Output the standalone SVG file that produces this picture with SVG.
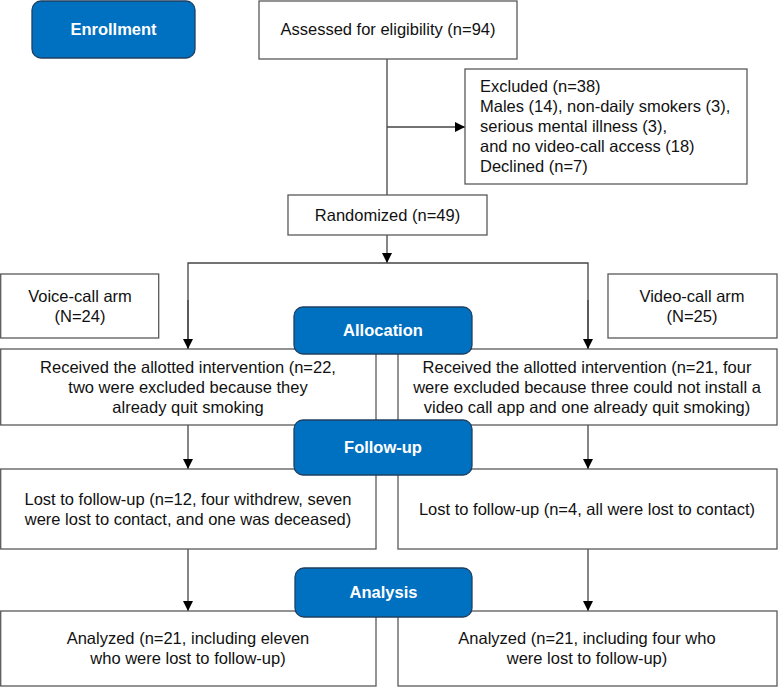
<svg xmlns="http://www.w3.org/2000/svg" width="778" height="687" viewBox="0 0 778 687">
<defs>
<style>
.box{fill:#fff;stroke:#595959;stroke-width:1.3}
.stage{fill:#0070c0;stroke:#1f3f60;stroke-width:1.3}
.t{font-family:"Liberation Sans",Arial,sans-serif;font-size:16.5px;fill:#111}
.c{text-anchor:middle}
.s{font-family:"Liberation Sans",Arial,sans-serif;font-size:16.5px;font-weight:bold;fill:#fff;text-anchor:middle}
.ln{fill:none;stroke:#444;stroke-width:1.3}
</style>
<marker id="ah" viewBox="0 0 10 10" refX="10" refY="5" markerWidth="10" markerHeight="10" markerUnits="userSpaceOnUse" orient="auto">
<path d="M0,0 L10,5 L0,10 z" fill="#000"/>
</marker>
</defs>
<rect width="778" height="687" fill="#fff"/>
<g id="connectors">
<line class="ln" x1="387" y1="59" x2="387" y2="195"/>
<line class="ln" x1="387" y1="127" x2="465" y2="127" marker-end="url(#ah)"/>
<line class="ln" x1="387" y1="235" x2="387" y2="263" marker-end="url(#ah)"/>
<polyline class="ln" points="188,349 188,263 588,263 588,349"/>
<line class="ln" x1="188" y1="300" x2="188" y2="349" marker-end="url(#ah)"/>
<line class="ln" x1="588" y1="300" x2="588" y2="349" marker-end="url(#ah)"/>
<line class="ln" x1="188" y1="425" x2="188" y2="469" marker-end="url(#ah)"/>
<line class="ln" x1="588" y1="425" x2="588" y2="469" marker-end="url(#ah)"/>
<line class="ln" x1="188" y1="549" x2="188" y2="611" marker-end="url(#ah)"/>
<line class="ln" x1="588" y1="549" x2="588" y2="611" marker-end="url(#ah)"/>
</g>
<g id="enrollment"><rect class="stage" x="32" y="1" width="163" height="57" rx="9"/><text class="s" x="113.5" y="35">Enrollment</text></g>
<g id="assessed"><rect class="box" x="259" y="1" width="258" height="58"/><text class="t c" x="388" y="35">Assessed for eligibility (n=94)</text></g>
<g id="excluded"><rect class="box" x="465" y="69" width="282" height="115"/>
<text class="t" x="480" y="92">Excluded (n=38)</text>
<text class="t" x="480" y="112">Males (14), non-daily smokers (3),</text>
<text class="t" x="480" y="132">serious mental illness (3),</text>
<text class="t" x="480" y="152">and no video-call access (18)</text>
<text class="t" x="480" y="172">Declined (n=7)</text></g>
<g id="randomized"><rect class="box" x="288" y="195" width="199" height="40"/><text class="t c" x="387.5" y="221">Randomized (n=49)</text></g>
<g id="voice-arm"><rect class="box" x="0.7" y="274" width="158" height="64"/><text class="t c" x="80" y="302">Voice-call arm</text><text class="t c" x="80" y="322">(N=24)</text></g>
<g id="video-arm"><rect class="box" x="608" y="274" width="169" height="64"/><text class="t c" x="692" y="302">Video-call arm</text><text class="t c" x="692" y="322">(N=25)</text></g>
<g id="received-voice"><rect class="box" x="0.7" y="349" width="375.3" height="76"/>
<text class="t c" x="188" y="373">Received the allotted intervention (n=22,</text>
<text class="t c" x="188" y="393">two were excluded because they</text>
<text class="t c" x="188" y="413">already quit smoking</text></g>
<g id="received-video"><rect class="box" x="398" y="349" width="379" height="76"/>
<text class="t c" x="587" y="373">Received the allotted intervention (n=21, four</text>
<text class="t c" x="587" y="393">were excluded because three could not install a</text>
<text class="t c" x="587" y="413">video call app and one already quit smoking)</text></g>
<g id="allocation"><rect class="stage" x="294" y="307" width="178" height="47" rx="9"/><text class="s" x="383" y="336">Allocation</text></g>
<g id="lost-voice"><rect class="box" x="0.7" y="469" width="375.3" height="80"/>
<text class="t c" x="188" y="505">Lost to follow-up (n=12, four withdrew, seven</text>
<text class="t c" x="188" y="525">were lost to contact, and one was deceased)</text></g>
<g id="lost-video"><rect class="box" x="398" y="469" width="379" height="80"/>
<text class="t c" x="587" y="515">Lost to follow-up (n=4, all were lost to contact)</text></g>
<g id="followup"><rect class="stage" x="294" y="420" width="178" height="55" rx="9"/><text class="s" x="383" y="453">Follow-up</text></g>
<g id="analyzed-voice"><rect class="box" x="0.7" y="611" width="375.3" height="75"/>
<text class="t c" x="188" y="644">Analyzed (n=21, including eleven</text>
<text class="t c" x="188" y="664">who were lost to follow-up)</text></g>
<g id="analyzed-video"><rect class="box" x="398" y="611" width="379" height="75"/>
<text class="t c" x="587" y="644">Analyzed (n=21, including four who</text>
<text class="t c" x="587" y="664">were lost to follow-up)</text></g>
<g id="analysis"><rect class="stage" x="295" y="568" width="177" height="49" rx="9"/><text class="s" x="383.5" y="598">Analysis</text></g>
</svg>
